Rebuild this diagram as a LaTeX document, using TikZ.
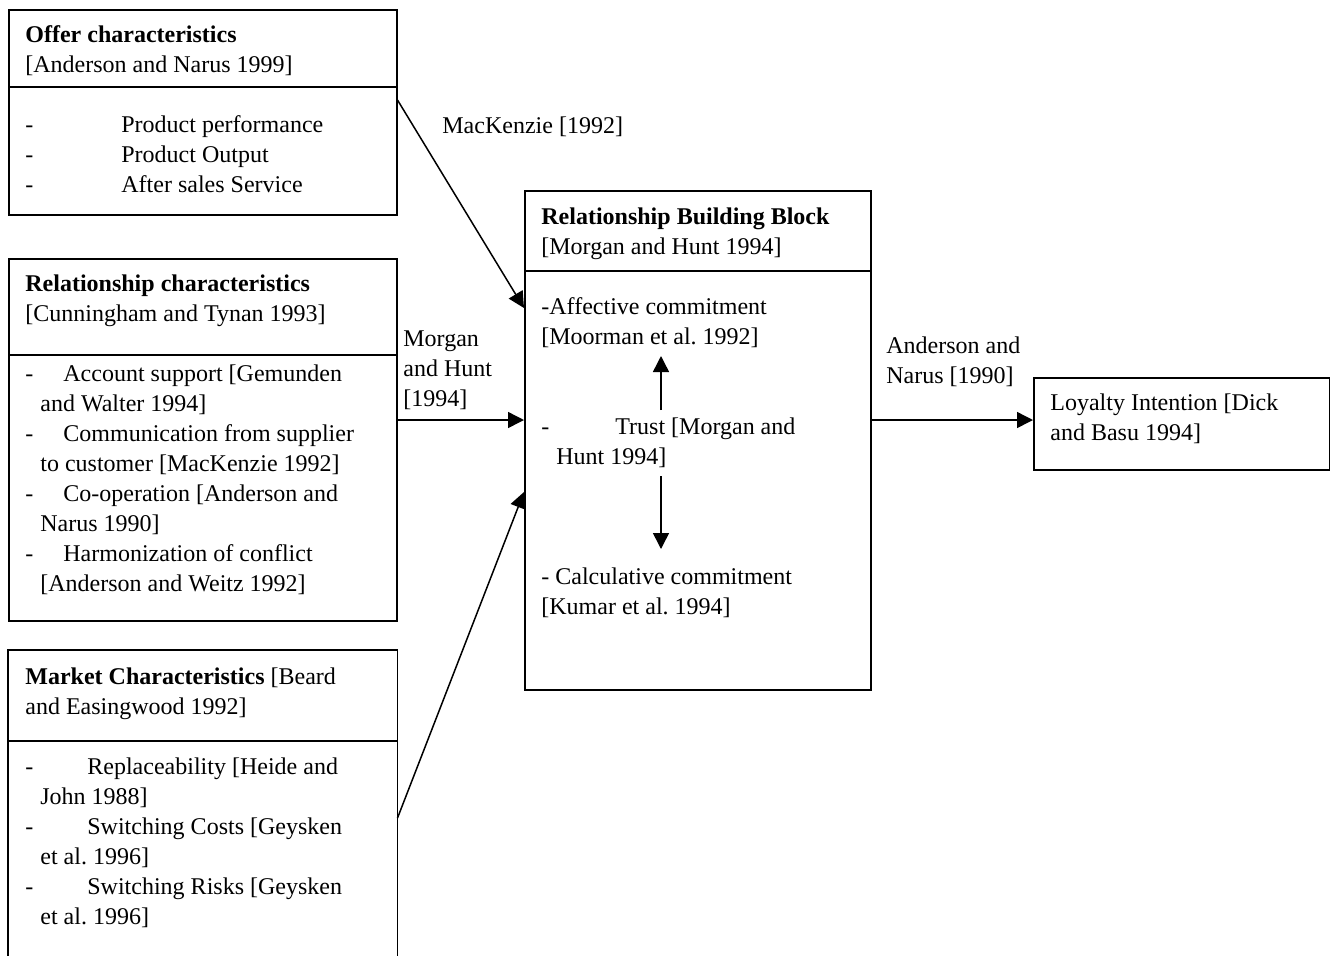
\documentclass[tikz,border=0pt]{standalone}
\usepackage{fontspec}
\setmainfont{Liberation Serif}
\usetikzlibrary{arrows.meta}
\frenchspacing
\begin{document}
\begin{tikzpicture}[x=0.5pt,y=-0.5pt,
  every node/.style={font=\fontsize{12}{15}\selectfont},
  box/.style={draw, line width=0.75pt, rectangle, anchor=north west, inner sep=0pt},
  txt/.style={anchor=base west, inner sep=0pt},
  ln/.style={line width=0.75pt},
  arr/.style={line width=0.75pt, -{Triangle[length=8pt,width=8pt]}}]
\useasboundingbox (0,0) rectangle (1330,955);
% boxes
\node[box, minimum width=194pt, minimum height=102.5pt] (offer) at (8,9) {};
\node[box, minimum width=194pt, minimum height=181pt] (rel) at (8,258) {};
\node[box, draw=none, minimum width=194pt, minimum height=152.5pt] (market) at (8,650) {};
\draw[ln] (market.south west) -- (market.north west) -- (market.north east) -- (market.south east);
\node[box, minimum width=173pt, minimum height=249.5pt] (rbb) at (524,190) {};
\node[box, minimum width=148pt, minimum height=46pt] (loy) at (1033,377) {};
% dividers
\draw[ln] ([yshift=-39pt]offer.north west) -- ([yshift=-39pt]offer.north east);
\draw[ln] ([yshift=-48.5pt]rel.north west) -- ([yshift=-48.5pt]rel.north east);
\draw[ln] ([yshift=-45.5pt]market.north west) -- ([yshift=-45.5pt]market.north east);
\draw[ln] ([yshift=-40.5pt]rbb.north west) -- ([yshift=-40.5pt]rbb.north east);
% offer text
\node[txt] (o1) at (25,42) {\bfseries Offer characteristics};
\node[txt] (o2) at (25,72) {[Anderson and Narus 1999]};
\node[txt] (o3) at (25,132) {-};
\node[txt] (o4) at (121,132) {Product performance};
\node[txt] (o5) at (25,162) {-};
\node[txt] (o6) at (121,162) {Product Output};
\node[txt] (o7) at (25,192) {-};
\node[txt] (o8) at (121,192) {After sales Service};
% relationship text
\node[txt] (r1) at (25,291) {\bfseries Relationship characteristics};
\node[txt] (r2) at (25,321) {[Cunningham and Tynan 1993]};
\node[txt] (r3) at (25,381) {-};
\node[txt] (r4) at (63,381) {Account support [Gemunden};
\node[txt] (r5) at (40,411) {and Walter 1994]};
\node[txt] (r6) at (25,441) {-};
\node[txt] (r7) at (63,441) {Communication from supplier};
\node[txt] (r8) at (40,471) {to customer [MacKenzie 1992]};
\node[txt] (r9) at (25,501) {-};
\node[txt] (r10) at (63,501) {Co-operation [Anderson and};
\node[txt] (r11) at (40,531) {Narus 1990]};
\node[txt] (r12) at (25,561) {-};
\node[txt] (r13) at (63,561) {Harmonization of conflict};
\node[txt] (r14) at (40,591) {[Anderson and Weitz 1992]};
% market text
\node[txt] (m1) at (25,684) {{\bfseries Market Characteristics} [Beard};
\node[txt] (m2) at (25,714) {and Easingwood 1992]};
\node[txt] (m3) at (25,774) {-};
\node[txt] (m4) at (87,774) {Replaceability [Heide and};
\node[txt] (m5) at (40,804) {John 1988]};
\node[txt] (m6) at (25,834) {-};
\node[txt] (m7) at (87,834) {Switching Costs [Geysken};
\node[txt] (m8) at (40,864) {et al. 1996]};
\node[txt] (m9) at (25,894) {-};
\node[txt] (m10) at (87,894) {Switching Risks [Geysken};
\node[txt] (m11) at (40,924) {et al. 1996]};
% rbb text
\node[txt] (b1) at (541,224) {\bfseries Relationship Building Block};
\node[txt] (b2) at (541,254) {[Morgan and Hunt 1994]};
\node[txt] (b3) at (541,314) {-Affective commitment};
\node[txt] (b4) at (541,344) {[Moorman et al. 1992]};
\node[txt] (b5) at (541,434) {-};
\node[txt] (b6) at (615,434) {Trust [Morgan and};
\node[txt] (b7) at (556,464) {Hunt 1994]};
\node[txt] (b8) at (541,584) {- Calculative commitment};
\node[txt] (b9) at (541,614) {[Kumar et al. 1994]};
% loyalty text
\node[txt] (l1) at (1050,410) {Loyalty Intention [Dick};
\node[txt] (l2) at (1050,440) {and Basu 1994]};
% connector labels
\node[txt] (k1) at (442,133) {MacKenzie [1992]};
\node[txt] (k2) at (403,346) {Morgan};
\node[txt] (k3) at (403,376) {and Hunt};
\node[txt] (k4) at (403,406) {[1994]};
\node[txt] (k5) at (886,353) {Anderson and};
\node[txt] (k6) at (886,383) {Narus [1990]};
% connectors
\draw[arr] ([yshift=-45.5pt]offer.north east) -- ([yshift=-59pt]rbb.north west);
\draw[arr] ([yshift=-81pt]rel.north east) -- ([yshift=-115pt]rbb.north west);
\draw[arr] ([yshift=-84pt]market.north east) -- ([yshift=-151pt]rbb.north west);
\coordinate (ra) at ([yshift=-115pt]rbb.north east);
\draw[arr] (ra) -- (ra -| loy.west);
\coordinate (tu) at (661,410);
\coordinate (au) at (661,356);
\coordinate (td) at (661,476);
\coordinate (cd) at (661,549);
\draw[arr] (tu) -- (au);
\draw[arr] (td) -- (cd);
\end{tikzpicture}
\end{document}
